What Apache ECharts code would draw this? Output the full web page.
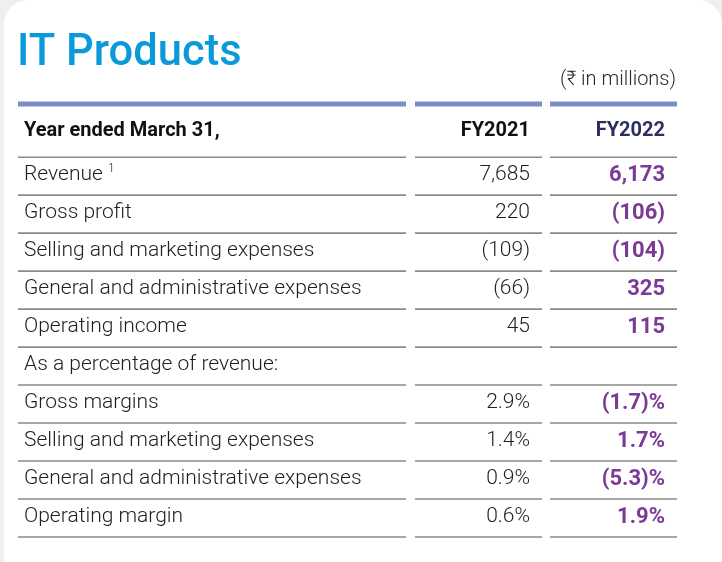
<!DOCTYPE html>
<html><head><meta charset="utf-8">
<script src="https://cdn.jsdelivr.net/npm/echarts@6/dist/echarts.min.js"></script>
<style>html,body{margin:0;padding:0;background:#efefef;} #c{width:722px;height:562px;}</style>
</head><body><div id="c"></div>
<script>
// ---- data ----
const chartTitle = 'IT Products';
const unitNote = '(₹ in millions)';
const headerLabel = 'Year ended March 31,';
const years = ['FY2021', 'FY2022'];
const rowLabels = ['Revenue', 'Gross profit', 'Selling and marketing expenses', 'General and administrative expenses', 'Operating income', 'As a percentage of revenue:', 'Gross margins', 'Selling and marketing expenses', 'General and administrative expenses', 'Operating margin'];
const rowFootnotes = ['1', '', '', '', '', '', '', '', '', ''];
const rowIsPercent = [false, false, false, false, false, false, true, true, true, true];
const fy2021 = [7685, 220, -109, -66, 45, null, 2.9, 1.4, 0.9, 0.6];
const fy2022 = [6173, -106, -104, 325, 115, null, -1.7, 1.7, -5.3, 1.9];

// ---- layout / style ----
const FONT = 'Roboto, "Noto Sans", sans-serif';
const COLS = [{x0: 0, x1: 388}, {x0: 397, x1: 524}, {x0: 532, x1: 659}];
const TEXT_PAD_L = 6, TEXT_PAD_R = 12;
const HEADER_TOP = -1.4;

function fmt(v, pct) {
  if (v === null || v === undefined) return '';
  if (pct) {
    const s = Math.abs(v).toFixed(1);
    return v < 0 ? '(' + s + ')%' : s + '%';
  }
  const s = Math.abs(v).toLocaleString('en-US');
  return v < 0 ? '(' + s + ')' : s;
}

const chart = echarts.init(document.getElementById('c'), null, {renderer: 'canvas'});

function colX(api, c) {
  return [api.coord([COLS[c].x0, 0])[0], api.coord([COLS[c].x1, 0])[0]];
}

function renderRow(params, api) {
  const i = api.value(0);
  const yTop = api.coord([0, i])[1];
  const yBot = api.coord([0, i + 1])[1];
  const yMid = (yTop + yBot) / 2 - 1;
  const children = [];
  for (let c = 0; c < 3; c++) {
    const [a, b] = colX(api, c);
    children.push({type: 'line', shape: {x1: a, y1: yBot, x2: b, y2: yBot},
      style: {stroke: '#8a8a8a', lineWidth: 1.6}});
  }
  const [l0] = colX(api, 0);
  const fn = rowFootnotes[i];
  children.push({type: 'text', style: {
    text: rowLabels[i] + (fn ? ' {sup|' + fn + '}' : ''),
    x: l0 + TEXT_PAD_L, y: yMid, align: 'left', verticalAlign: 'middle',
    fontFamily: FONT, fontSize: 21, fontWeight: 300, fill: '#1e1e1e',
    rich: {sup: {fontSize: 12, fontFamily: FONT, fontWeight: 300, fill: '#1e1e1e', verticalAlign: 'top', lineHeight: 24}}
  }});
  const [, r1] = colX(api, 1);
  children.push({type: 'text', style: {
    text: fmt(fy2021[i], rowIsPercent[i]), x: r1 - TEXT_PAD_R, y: yMid,
    align: 'right', verticalAlign: 'middle', fontFamily: FONT, fontSize: 21, fontWeight: 300, fill: '#1e1e1e'
  }});
  const [, r2] = colX(api, 2);
  children.push({type: 'text', style: {
    text: fmt(fy2022[i], rowIsPercent[i]), x: r2 - TEXT_PAD_R, y: yMid,
    align: 'right', verticalAlign: 'middle', fontFamily: FONT, fontSize: 22, fontWeight: 'bold', fill: '#7a3b96'
  }});
  return {type: 'group', children};
}

function renderHeader(params, api) {
  const yTop = api.coord([0, HEADER_TOP])[1];
  const yBot = api.coord([0, 0])[1];
  const yMid = (yTop + yBot) / 2 + 0.5;
  const children = [];
  for (let c = 0; c < 3; c++) {
    const [a, b] = colX(api, c);
    children.push({type: 'line', shape: {x1: a, y1: yTop, x2: b, y2: yTop},
      style: {stroke: '#7b8ec8', lineWidth: 5}});
    children.push({type: 'line', shape: {x1: a, y1: yBot, x2: b, y2: yBot},
      style: {stroke: '#8a8a8a', lineWidth: 1.6}});
  }
  const [l0] = colX(api, 0);
  children.push({type: 'text', style: {text: headerLabel, x: l0 + TEXT_PAD_L, y: yMid,
    align: 'left', verticalAlign: 'middle', fontFamily: FONT, fontSize: 20, fontWeight: 'bold', fill: '#111'}});
  const [, r1] = colX(api, 1);
  children.push({type: 'text', style: {text: years[0], x: r1 - TEXT_PAD_R, y: yMid,
    align: 'right', verticalAlign: 'middle', fontFamily: FONT, fontSize: 20, fontWeight: 'bold', fill: '#111'}});
  const [, r2] = colX(api, 2);
  children.push({type: 'text', style: {text: years[1], x: r2 - TEXT_PAD_R, y: yMid,
    align: 'right', verticalAlign: 'middle', fontFamily: FONT, fontSize: 20, fontWeight: 'bold', fill: '#2b2e5e'}});
  return {type: 'group', children};
}

chart.setOption({
  backgroundColor: '#efefef',
  animation: false,
  graphic: [{type: 'rect', z: -10, silent: true, shape: {x: 4, y: 0, width: 718, height: 600, r: [24, 24, 0, 0]},
    style: {fill: '#ffffff'}}],
  title: [
    {text: chartTitle, left: 17, top: 32, padding: 0,
      textStyle: {fontFamily: FONT, fontSize: 43.5, fontWeight: 500, color: '#0a9ad9'}},
    {text: unitNote, right: 46, top: 70, padding: 0,
      textStyle: {fontFamily: FONT, fontSize: 20, fontWeight: 300, color: '#2a2a2a'}}
  ],
  grid: {left: 18, right: 45, top: 104, bottom: 25},
  xAxis: {type: 'value', min: 0, max: 659, show: false},
  yAxis: {type: 'value', min: HEADER_TOP, max: 10, inverse: true, show: false},
  series: [
    {type: 'custom', silent: true, clip: false, renderItem: renderHeader, data: [[HEADER_TOP]]},
    {type: 'custom', silent: true, clip: false, renderItem: renderRow, data: rowLabels.map((_, i) => [i])}
  ]
});
</script></body></html>
